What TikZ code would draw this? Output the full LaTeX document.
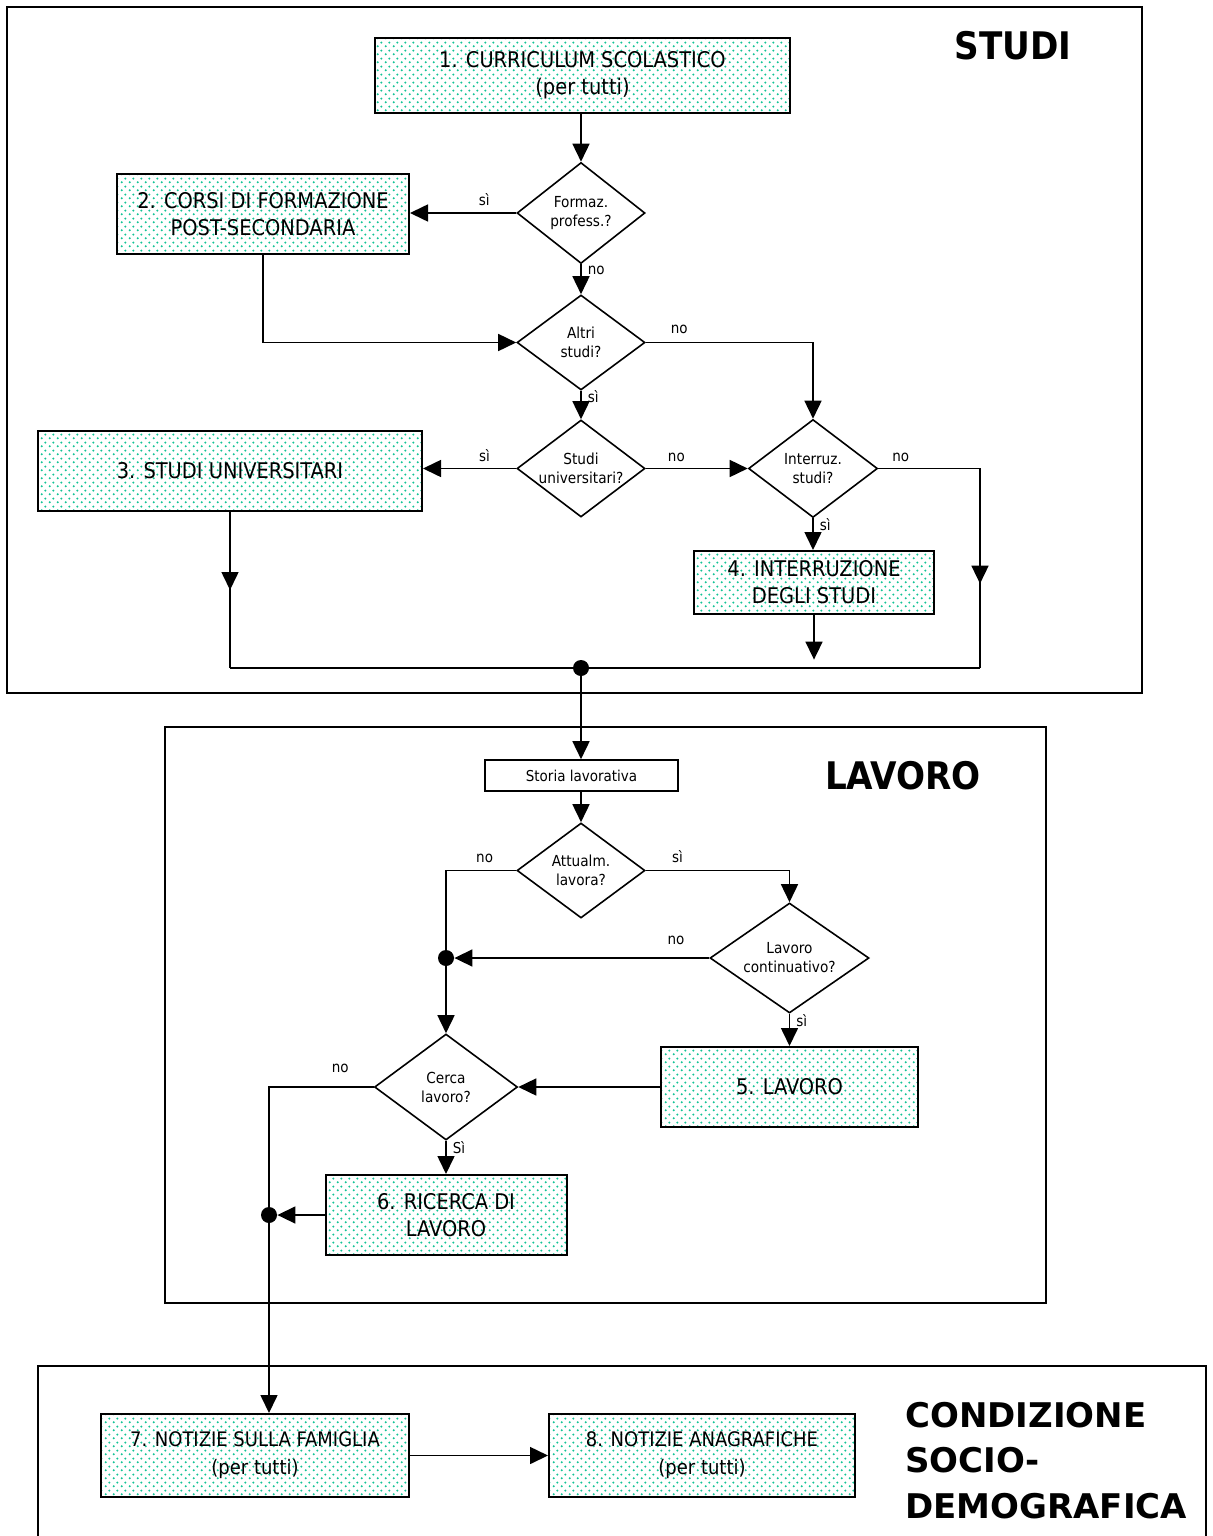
\documentclass[tikz,border=0pt]{standalone}
\usepackage{fontspec}
\setmainfont{DejaVu Sans Condensed}
\newfontfamily\widebold{DejaVu Sans}
\usetikzlibrary{shapes.geometric,arrows.meta,patterns.meta,decorations.markings,calc}
\definecolor{dotc}{RGB}{20,195,150}
\tikzdeclarepattern{
  name=gdots, type=colored,
  bottom left={(0pt,0pt)}, top right={(4pt,4pt)}, tile size={(4pt,4pt)},
  code={\fill[dotc] (1pt,1pt) circle (0.62pt); \fill[dotc] (3pt,3pt) circle (0.62pt);}
}
\begin{document}
\begin{tikzpicture}[x=0.5pt,y=-0.5pt,
  >={Triangle[length=9pt,width=8.5pt]},
  box/.style={draw,line width=1pt,pattern=gdots,align=center,font=\fontsize{10.8}{13.5}\selectfont,inner sep=0pt},
  dec/.style={draw,line width=0.8pt,diamond,aspect=1.35,inner xsep=-8pt,inner ysep=-3pt,align=center,font=\fontsize{7.6}{9.5}\selectfont},
  conn/.style={line width=0.8pt},
  arr/.style={conn,->},
  lbl/.style={font=\fontsize{7.5}{8}\selectfont,inner sep=0pt},
  frame/.style={line width=0.7pt},
  dot/.style={circle,fill,inner sep=0pt,minimum size=8pt},
  title/.style={font=\bfseries\fontsize{19}{22}\selectfont,inner sep=0pt},
  midarr/.style={conn,decoration={markings,mark=at position #1 with {\arrow{>}}},postaction={decorate}}
]
\useasboundingbox (0,0) rectangle (1212,1536);
% frames
\draw[frame] (7,7) rectangle (1142,693);
\draw[frame] (165,727) rectangle (1046,1303);
\draw[frame] (38,1545) -- (38,1366) -- (1206,1366) -- (1206,1545);
% titles
\node[title] (t1) at (1013,46) {STUDI};
\node[title] (t2) at (903,776) {LAVORO};
\node[inner sep=0pt,anchor=base west] (t3) at (905,1427) {\widebold\bfseries\fontsize{17}{22.75}\selectfont\begin{tabular}[t]{@{}l@{}}CONDIZIONE\\SOCIO-\\DEMOGRAFICA\end{tabular}};
% STUDI
\node[box,minimum width=207.5pt,minimum height=37.5pt] (b1) at (582.5,75.5) {1. CURRICULUM SCOLASTICO\\(per tutti)};
\node[dec,minimum width=64pt,minimum height=50.5pt] (d1) at (581,213) {Formaz.\\profess.?};
\node[box,minimum width=146pt,minimum height=40pt] (b2) at (263,214) {2. CORSI DI FORMAZIONE\\POST-SECONDARIA};
\node[dec,minimum width=64pt,minimum height=47.5pt] (d2) at (581,342.5) {Altri\\studi?};
\node[dec,minimum width=64pt,minimum height=48.5pt] (d3) at (581,468.5) {Studi\\universitari?};
\node[box,minimum width=192pt,minimum height=40pt] (b3) at (230,471) {3. STUDI UNIVERSITARI};
\node[dec,minimum width=64.5pt,minimum height=49pt] (d4) at (813,468.5) {Interruz.\\studi?};
\node[box,minimum width=120pt,minimum height=31.5pt] (b4) at (814,582.5) {4. INTERRUZIONE\\DEGLI STUDI};
\node[dot] (j1) at (581,668) {};
\coordinate (bl) at (230,668);
\coordinate (rc) at (980,668);
\draw[arr] (b1.south -| d1.north) -- (d1.north);
\draw[arr] (d1.west) -- node[lbl,above=3pt,pos=0.3]{sì} (b2.east |- d1.west);
\draw[arr] (d1.south) -- node[lbl,right=3pt,pos=0.2]{no} (d2.north);
\draw[arr] (b2.south) |- (d2.west);
\draw[arr] (d2.east) -| node[lbl,above=4pt,pos=0.1]{no} (d4.north);
\draw[arr] (d2.south) -- node[lbl,right=3pt,pos=0.2]{sì} (d3.north);
\draw[arr] (d3.west) -- node[lbl,above=3pt,pos=0.34]{sì} (b3.east |- d3.west);
\draw[arr] (d3.east) -- node[lbl,above=3pt,pos=0.3]{no} (d4.west);
\draw[arr] (d4.south) -- node[lbl,right=3pt,pos=0.2]{sì} (b4.north -| d4.south);
\draw[midarr=0.72] (d4.east) -| node[lbl,above=3pt,pos=0.11]{no} (rc);
\draw[midarr=0.5] (b3.south) -- (bl);
\draw[conn] (bl) -- (rc);
\draw[arr] (b4.south) -- (b4.south |- j1.north);
% LAVORO
\node[draw,line width=0.8pt,inner sep=0pt,minimum width=96.5pt,minimum height=15.5pt,font=\fontsize{7.5}{8}\selectfont] (st) at (581.5,775.5) {Storia lavorativa};
\node[dec,minimum width=64pt,minimum height=47.5pt] (d5) at (581,870.5) {Attualm.\\lavora?};
\node[dec,minimum width=79.5pt,minimum height=55pt,aspect=1.45] (d6) at (789.5,958) {Lavoro\\continuativo?};
\node[box,minimum width=128.5pt,minimum height=40pt] (b5) at (789.5,1087) {5. LAVORO};
\node[dec,minimum width=71.5pt,minimum height=53pt] (d7) at (446,1087) {Cerca\\lavoro?};
\node[box,minimum width=120.5pt,minimum height=40pt] (b6) at (446,1215) {6. RICERCA DI\\LAVORO};
\node[dot] (j2) at (446,958) {};
\node[dot] (j3) at (269,1215) {};
\draw[arr] (j1) -- (st.north -| j1);
\draw[arr] (st.south -| d5.north) -- (d5.north);
\draw[conn] (d5.west) -| node[lbl,above=3.5pt,pos=0.225]{no} (j2);
\draw[arr] (j2) -- (d7.north);
\draw[arr] (d5.east) -| node[lbl,above=3.5pt,pos=0.11]{sì} (d6.north);
\draw[arr] (d6.west) -- node[lbl,above=6pt,pos=0.13]{no} (j2.east);
\draw[arr] (d6.south) -- node[lbl,right=3pt,pos=0.2]{sì} (b5.north);
\draw[arr] (b5.west) -- (d7.east);
\draw[conn] (d7.west) -| node[lbl,above=7pt,pos=0.16]{no} (j3);
\draw[arr] (d7.south) -- node[lbl,right=3pt,pos=0.2]{Sì} (b6.north);
\draw[arr] (b6.west) -- (j3.east);
% CONDIZIONE
\node[box,minimum width=154pt,minimum height=41.5pt,font=\fontsize{10}{14}\selectfont] (b7) at (255,1455.5) {7. NOTIZIE SULLA FAMIGLIA\\(per tutti)};
\node[box,minimum width=153pt,minimum height=41.5pt,font=\fontsize{10}{14}\selectfont] (b8) at (702,1455.5) {8. NOTIZIE ANAGRAFICHE\\(per tutti)};
\draw[arr] (j3) -- (j3 |- b7.north);
\draw[arr] (b7.east) -- (b8.west);
\end{tikzpicture}
\end{document}
